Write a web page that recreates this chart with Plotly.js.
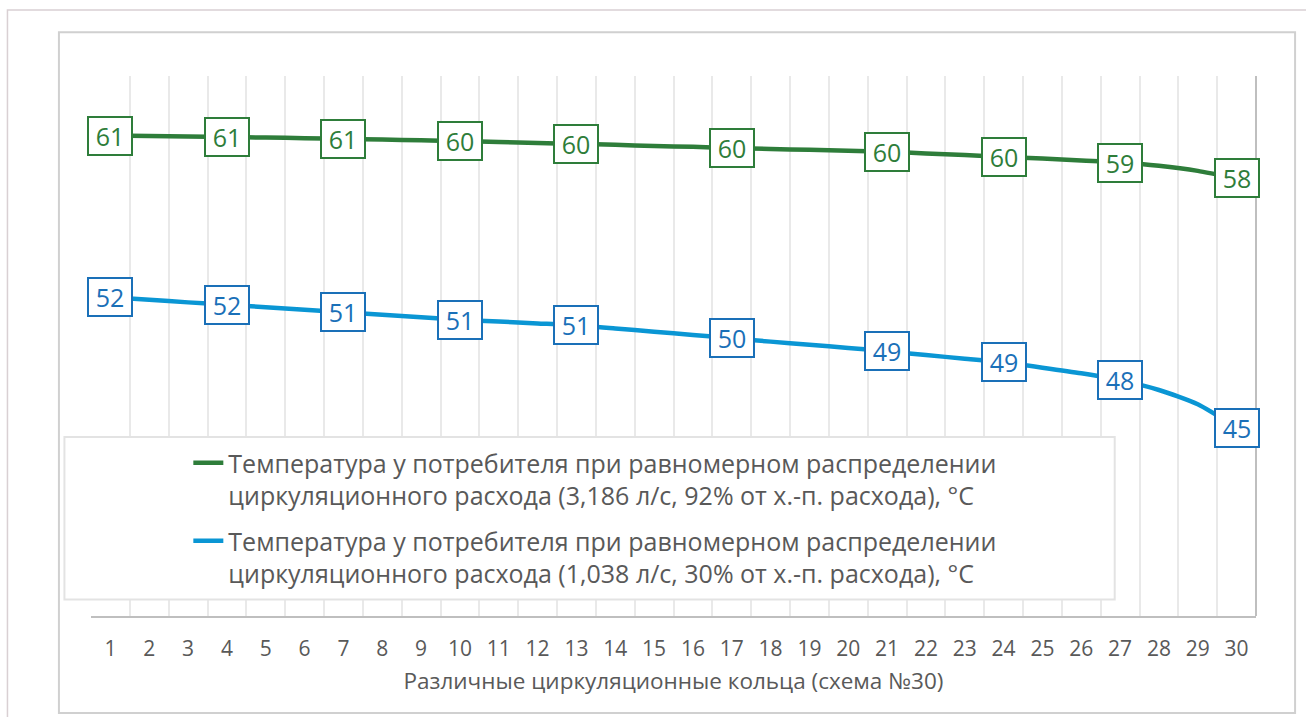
<!DOCTYPE html>
<html>
<head>
<meta charset="utf-8">
<script src="https://cdn.plot.ly/plotly-3.0.1.min.js"></script>
<style>
html,body{margin:0;padding:0;background:#fff;}
#chart{width:1306px;height:717px;}
</style>
</head>
<body>
<div id="chart"></div>
<script>
// Categories: circulation rings 1..30
const categories = [1,2,3,4,5,6,7,8,9,10,11,12,13,14,15,16,17,18,19,20,21,22,23,24,25,26,27,28,29,30];
const tickLabels = categories.map(String);

// Series 1: 3,186 l/s (92%)
const seriesHigh = [60.70,60.67,60.65,60.62,60.59,60.56,60.52,60.48,60.44,60.40,
                    60.35,60.30,60.25,60.20,60.14,60.09,60.03,59.98,59.93,59.88,
                    59.83,59.74,59.65,59.55,59.46,59.36,59.25,59.07,58.80,58.40];
// Series 2: 1,038 l/s (30%)
const seriesLow  = [52.00,51.87,51.73,51.60,51.47,51.33,51.20,51.07,50.93,50.80,
                    50.70,50.60,50.50,50.33,50.15,49.98,49.80,49.62,49.45,49.28,
                    49.10,48.90,48.70,48.50,48.22,47.92,47.55,47.02,46.25,45.00];

// Categories that carry a data label
const labeledCategories = [1,4,7,10,13,17,21,24,27,30];

const nameHigh = "Температура у потребителя при равномерном распределении<br>циркуляционного расхода (3,186 л/с, 92% от х.-п. расхода), °C";
const nameLow  = "Температура у потребителя при равномерном распределении<br>циркуляционного расхода (1,038 л/с, 30% от х.-п. расхода), °C";
const xTitle = "Различные циркуляционные кольца (схема №30)";

const GREEN = "#2e7d3a", BLUE_LINE = "#0a96d4", BLUE_LBL = "#1a70b8";
const FONT = "'Open Sans', Lato, sans-serif";

const traces = [
  {x: categories, y: seriesHigh, name: nameHigh, legendgroup: "g1", type: "scatter", mode: "lines",
   line: {color: GREEN, width: 4.5, shape: "spline", smoothing: 0.6}, hoverinfo: "skip"},
  {x: categories, y: seriesLow, name: nameLow, legendgroup: "g2", type: "scatter", mode: "lines",
   line: {color: BLUE_LINE, width: 4.5, shape: "spline", smoothing: 0.6}, hoverinfo: "skip"}
];

function labelsFor(values, color) {
  return labeledCategories.map(c => ({
    x: c, y: values[categories.indexOf(c)], xref: "x", yref: "y",
    text: String(Math.round(values[categories.indexOf(c)])),
    showarrow: false, bgcolor: "#ffffff", bordercolor: color, borderwidth: 2,
    borderpad: 0, width: 42, height: 36,
    font: {family: FONT, size: 25, color: color}
  }));
}

const L = 90.6, R = 1256.4, T = 76, B = 616;
const PW = R - L, PH = B - T;
const px = v => (v - L) / PW;
const py = v => (B - v) / PH;

const layout = {
  width: 1306, height: 717,
  margin: {l: L, r: 1306 - R, t: T, b: 717 - B, pad: 0},
  paper_bgcolor: "#ffffff", plot_bgcolor: "#ffffff",
  font: {family: FONT, color: "#595959"},
  showlegend: true,
  legend: {x: px(188), y: py(440), xanchor: "left", yanchor: "top",
           bgcolor: "rgba(0,0,0,0)", borderwidth: 0, valign: "top",
           font: {family: FONT, size: 25, color: "#595959"},
           tracegroupgap: 10, itemwidth: 30},
  xaxis: {range: [0.5, 30.5], tickmode: "array", tickvals: categories, ticktext: tickLabels,
          showgrid: false, zeroline: false, ticks: "", showline: true, linecolor: "#bfbfbf", linewidth: 2,
          tickfont: {family: FONT, size: 21, color: "#595959"}, ticklabelstandoff: 13,
          minor: {tickmode: "linear", tick0: 0.5, dtick: 1, showgrid: true, gridcolor: "#e9e9e9", gridwidth: 2, ticks: ""},
          title: {text: xTitle, font: {family: FONT, size: 22.5, color: "#595959"}, standoff: 12},
          fixedrange: true},
  yaxis: {range: [34.87, 63.9], showgrid: false, zeroline: false, showticklabels: false,
          ticks: "", showline: false, fixedrange: true},
  shapes: [
    {type: "rect", xref: "paper", yref: "paper", x0: px(7), x1: px(1320), y0: py(730), y1: py(10),
     line: {color: "#d9d0d3", width: 1.5}, fillcolor: "rgba(0,0,0,0)", layer: "below"},
    {type: "rect", xref: "paper", yref: "paper", x0: px(58.5), x1: px(1295.5), y0: py(713), y1: py(32.3),
     line: {color: "#d0d0d0", width: 2}, fillcolor: "rgba(0,0,0,0)", layer: "below"},
    {type: "rect", xref: "paper", yref: "paper", x0: px(64), x1: px(1115), y0: py(599.5), y1: py(437),
     line: {color: "#e3e3e3", width: 2}, fillcolor: "#ffffff", layer: "above"},
    {type: "line", xref: "paper", yref: "paper", x0: 1, x1: 1, y0: 0, y1: 1,
     line: {color: "#bfbfbf", width: 2}, layer: "above"}
  ],
  annotations: [].concat(labelsFor(seriesHigh, GREEN), labelsFor(seriesLow, BLUE_LBL))
};

Plotly.newPlot("chart", traces, layout, {displayModeBar: false, staticPlot: true});
</script>
</body>
</html>
